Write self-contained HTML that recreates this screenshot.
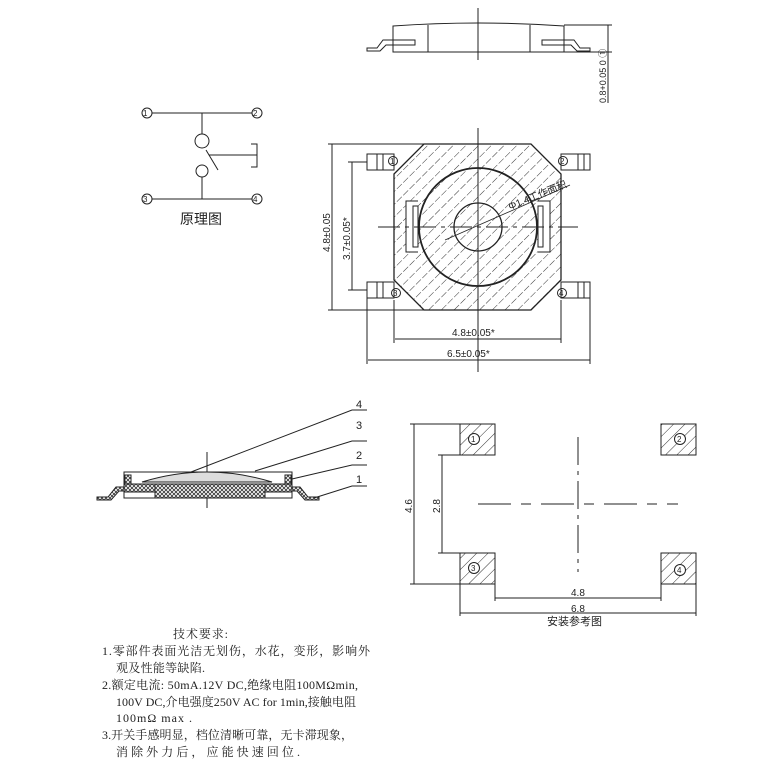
<!DOCTYPE html>
<html><head><meta charset="utf-8"><style>
body{margin:0;background:#fff}
svg{display:block}
text{font-family:"Liberation Sans","Noto Sans CJK SC",sans-serif;fill:#222}
.s{font-family:"Liberation Serif","Noto Serif CJK SC",serif}
</style></head><body>
<svg width="758" height="766" viewBox="0 0 758 766" xmlns="http://www.w3.org/2000/svg">
<defs>
<pattern id="h" width="9" height="9" patternUnits="userSpaceOnUse" patternTransform="rotate(45)">
<rect width="9" height="9" fill="#fff"/><line x1="0" y1="0" x2="0" y2="9" stroke="#333" stroke-width="1" stroke-dasharray="6 2"/></pattern>
<pattern id="h2" width="8" height="8" patternUnits="userSpaceOnUse" patternTransform="rotate(45)">
<rect width="8" height="8" fill="#fff"/><line x1="0" y1="0" x2="0" y2="8" stroke="#333" stroke-width="1"/></pattern>
<pattern id="x" width="4" height="4" patternUnits="userSpaceOnUse">
<rect width="4" height="4" fill="#fff"/><path d="M0 0L4 4M4 0L0 4" stroke="#333" stroke-width="0.8"/></pattern>
</defs>
<g fill="none" stroke="#222" stroke-width="1">
<line x1="478" y1="8" x2="478" y2="60"/>
<path d="M393 52V26Q478 20 564 26V52Z"/>
<line x1="428" y1="25" x2="428" y2="52"/><line x1="530" y1="25" x2="530" y2="52"/>
<path d="M393 40H415V45H393"/><path d="M393 40H383L377 48H367V51H380L386 45H393"/>
<path d="M564 40H542V45H564"/><path d="M564 40H574L580 48H590V51H577L571 45H564"/>
<line x1="564" y1="25" x2="612" y2="25"/><line x1="564" y1="52" x2="612" y2="52"/>
<line x1="608" y1="25" x2="608" y2="103"/>
<line x1="152" y1="113" x2="252" y2="113"/><line x1="152" y1="199" x2="252" y2="199"/>
<circle cx="147" cy="113" r="5"/><circle cx="257" cy="113" r="5"/><circle cx="147" cy="199" r="5"/><circle cx="257" cy="199" r="5"/>
<line x1="202" y1="113" x2="202" y2="134"/><circle cx="202" cy="141" r="7"/>
<line x1="206" y1="150" x2="218" y2="170"/>
<circle cx="202" cy="171" r="6"/><line x1="202" y1="177" x2="202" y2="199"/>
<line x1="209" y1="155" x2="257" y2="155"/><path d="M251 144H257V167H251"/>
<path d="M394 174L424 144H531L561 174V280L531 310H424L394 280Z" fill="url(#h)" stroke-width="1.3"/>
<circle cx="478" cy="227" r="59" fill="url(#h)" stroke-width="1.8"/>
<circle cx="478" cy="227" r="24" stroke-width="1.3"/>
<path d="M418 201H406V252H418" fill="#fff"/><rect x="413" y="206" width="5" height="41" fill="#fff"/>
<path d="M538 201H550V252H538" fill="#fff"/><rect x="538" y="206" width="5" height="41" fill="#fff"/>
<g fill="#fff"><rect x="367" y="154" width="27" height="16"/><rect x="561" y="154" width="29" height="16"/><rect x="367" y="282" width="27" height="16"/><rect x="561" y="282" width="29" height="16"/></g>
<line x1="377" y1="154" x2="377" y2="170"/><line x1="383" y1="154" x2="383" y2="170"/>
<line x1="578" y1="154" x2="578" y2="170"/><line x1="584" y1="154" x2="584" y2="170"/>
<line x1="377" y1="282" x2="377" y2="298"/><line x1="383" y1="282" x2="383" y2="298"/>
<line x1="578" y1="282" x2="578" y2="298"/><line x1="584" y1="282" x2="584" y2="298"/>
<circle cx="393" cy="161" r="4.5"/><circle cx="563" cy="161" r="4.5"/><circle cx="396" cy="293" r="4.5"/><circle cx="562" cy="293" r="4.5"/>
<line x1="478" y1="128" x2="478" y2="372"/><line x1="378" y1="227" x2="578" y2="227" stroke-dasharray="22 5 4 5"/>
<line x1="445" y1="240" x2="570" y2="185" stroke-width="0.8"/>
<line x1="328" y1="144" x2="424" y2="144"/><line x1="328" y1="310" x2="424" y2="310"/><line x1="332" y1="144" x2="332" y2="310"/>
<line x1="348" y1="162" x2="367" y2="162"/><line x1="348" y1="290" x2="367" y2="290"/><line x1="352" y1="162" x2="352" y2="290"/>
<line x1="394" y1="300" x2="394" y2="343"/><line x1="561" y1="300" x2="561" y2="343"/><line x1="395" y1="339" x2="561" y2="339"/>
<line x1="367" y1="298" x2="367" y2="364"/><line x1="590" y1="298" x2="590" y2="364"/><line x1="368" y1="360" x2="590" y2="360"/>
<line x1="207" y1="452" x2="207" y2="508"/>
<rect x="124" y="472" width="168" height="26" fill="#fff"/>
<path d="M124 486H292" />
<rect x="125" y="475" width="6" height="11" fill="url(#x)"/><rect x="285" y="475" width="6" height="11" fill="url(#x)"/>
<path d="M142 482Q207 462 272 482Z" fill="#ddd"/>
<rect x="124" y="484" width="168" height="8" fill="url(#x)"/>
<rect x="155" y="484" width="110" height="14" fill="url(#x)"/>
<path d="M97 497H108L116 487H124V491H119L111 500H97Z" fill="url(#x)"/>
<path d="M319 497H308L300 487H292V491H297L305 500H319Z" fill="url(#x)"/>
<path d="M191 472L352 410H367M255 471L352 441H367M292 479L352 465H367M314 498L352 486H367"/>
<rect x="460" y="424" width="35" height="31" fill="url(#h2)"/><rect x="661" y="424" width="35" height="31" fill="url(#h2)"/>
<rect x="460" y="553" width="35" height="31" fill="url(#h2)"/><rect x="661" y="553" width="35" height="31" fill="url(#h2)"/>
<circle cx="474" cy="439" r="5.5" fill="#fff"/><circle cx="680" cy="439" r="5.5" fill="#fff"/><circle cx="474" cy="568" r="5.5" fill="#fff"/><circle cx="680" cy="570" r="5.5" fill="#fff"/>
<line x1="578" y1="437" x2="578" y2="572" stroke-dasharray="28 6 4 6"/>
<line x1="478" y1="504" x2="678" y2="504" stroke-dasharray="33 10 10 10"/>
<line x1="410" y1="424" x2="460" y2="424"/><line x1="410" y1="584" x2="460" y2="584"/><line x1="414" y1="424" x2="414" y2="584"/>
<line x1="438" y1="455" x2="460" y2="455"/><line x1="438" y1="553" x2="460" y2="553"/><line x1="442" y1="455" x2="442" y2="553"/>
<line x1="460" y1="584" x2="460" y2="616"/><line x1="696" y1="584" x2="696" y2="616"/><line x1="495" y1="584" x2="495" y2="601"/><line x1="661" y1="584" x2="661" y2="601"/>
<line x1="495" y1="598" x2="661" y2="598"/><line x1="460" y1="613" x2="696" y2="613"/>
</g>
<g font-size="8">
<text x="143" y="116">1</text><text x="253" y="116">2</text><text x="143" y="202">3</text><text x="253" y="202">4</text>
<text x="390" y="164">1</text><text x="560" y="164">2</text><text x="393" y="296">3</text><text x="559" y="296">4</text>
<text x="471" y="442">1</text><text x="677" y="442">2</text><text x="471" y="571">3</text><text x="677" y="573">4</text>
</g>
<text x="180" y="224" font-size="14">原理图</text>
<text x="510" y="210" font-size="10" transform="rotate(-22 510 210)">Φ1.4工作面积</text>
<text font-size="10" transform="translate(330 252) rotate(-90)">4.8±0.05</text>
<text font-size="10" transform="translate(350 260) rotate(-90)">3.7±0.05*</text>
<text x="452" y="336" font-size="10">4.8±0.05*</text>
<text x="447" y="357" font-size="10">6.5±0.05*</text>
<text font-size="9" transform="translate(606 103) rotate(-90)">0.8+0.05 0 ①</text>
<text x="356" y="408" font-size="11">4</text><text x="356" y="429" font-size="11">3</text><text x="356" y="459" font-size="11">2</text><text x="356" y="483" font-size="11">1</text>
<text font-size="10" transform="translate(412 513) rotate(-90)">4.6</text>
<text font-size="10" transform="translate(440 513) rotate(-90)">2.8</text>
<text x="571" y="596" font-size="10">4.8</text><text x="571" y="612" font-size="10">6.8</text>
<text x="547" y="625" font-size="11">安装参考图</text>
<g font-size="12" lengthAdjust="spacing">
<text class="s" x="173" y="638" textLength="55">技术要求:</text>
<text class="s" x="102" y="655" textLength="268">1.零部件表面光洁无划伤，水花，变形，影响外</text>
<text class="s" x="116" y="672" textLength="89">观及性能等缺陷.</text>
<text class="s" x="102" y="689" textLength="256">2.额定电流: 50mA.12V DC,绝缘电阻100MΩmin,</text>
<text class="s" x="116" y="706" textLength="240">100V DC,介电强度250V AC for 1min,接触电阻</text>
<text class="s" x="116" y="722" textLength="76">100mΩ max .</text>
<text class="s" x="102" y="739" textLength="251">3.开关手感明显，档位清晰可靠，无卡滞现象，</text>
<text class="s" x="116" y="756" textLength="184">消除外力后，应能快速回位.</text>
</g>
</svg>
</body></html>
